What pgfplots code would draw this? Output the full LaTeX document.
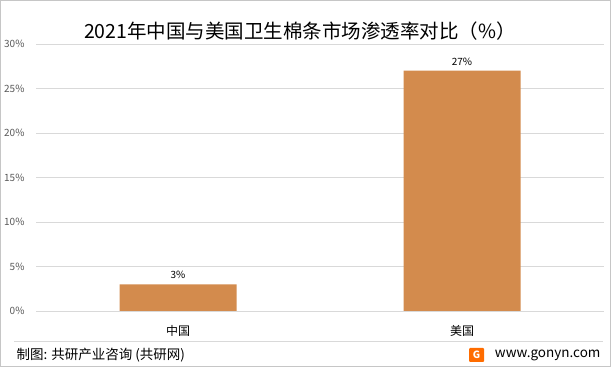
\documentclass[border=0pt]{standalone}
\usepackage{pgfplots}
\pgfplotsset{compat=1.18}
\usepackage{fontspec}
\setmainfont{Noto Sans CJK SC}
\definecolor{barc}{RGB}{211,139,77}
\definecolor{gridc}{RGB}{217,217,217}
\definecolor{tickc}{RGB}{89,89,89}
\begin{document}
\begin{tikzpicture}[x=1pt,y=1pt]
\useasboundingbox (0,0) rectangle (613,369);
\draw[gray!45] (0.5,2.5) rectangle (610.5,368.5);
\begin{axis}[
  at={(36pt,58pt)}, anchor=south west,
  scale only axis, width=568pt, height=267pt,
  ymin=0, ymax=30, ytick={0,5,...,30},
  xmin=-0.5, xmax=1.5, xtick={0,1},
  xticklabels={中国,美国},
  ybar, bar width=117pt, bar shift=0pt,
  axis x line*=bottom, axis y line*=left,
  x axis line style={gridc, line width=0.7pt, -},
  y axis line style={draw=none},
  ymajorgrids, grid style={gridc, line width=0.7pt},
  major tick length=0pt,
  /pgf/number format/assume math mode=true,
  yticklabel={\pgfmathprintnumber{\tick}\%},
  yticklabel style={font=\fontsize{10}{11}\selectfont, text=tickc, anchor=east, xshift=-8pt},
  xticklabel style={font=\fontsize{12}{14}\selectfont, yshift=-11pt},
  nodes near coords={\pgfmathprintnumber{\pgfplotspointmeta}\%},
  nodes near coords style={font=\fontsize{10}{12}\selectfont, text=black, yshift=2pt},
  clip=false,
]
\addplot[fill=barc, draw=none] coordinates {(0,3) (1,27)};
\end{axis}
\draw[gridc, line width=0.7pt] (14,28) -- (603,28);
\node[anchor=west, font=\fontsize{13.5}{15}\selectfont] at (13,13.5) {制图: 共研产业咨询 (共研网)};
\node[anchor=east, font=\fontsize{13.5}{15}\selectfont] at (604,13.5) {www.gonyn.com};
\fill[orange!85!red, rounded corners=1pt] (469,7) rectangle (484,21);
\node[font=\bfseries\fontsize{10}{10}\selectfont, text=white] at (476.5,14) {G};
\node[font=\fontsize{19.5}{22}\selectfont] at (300,338) {2021年中国与美国卫生棉条市场渗透率对比（\%）};
\end{tikzpicture}
\end{document}
